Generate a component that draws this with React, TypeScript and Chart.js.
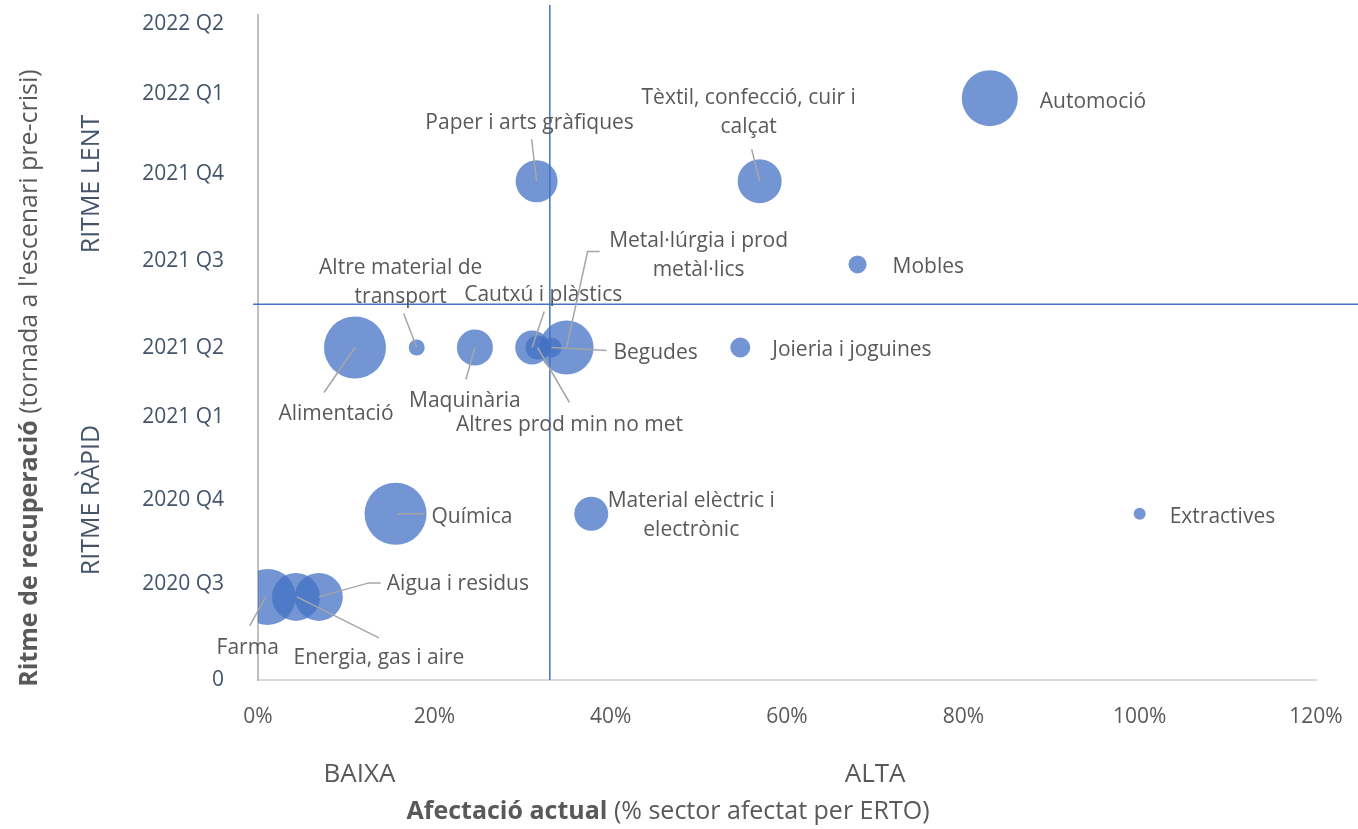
import React, { useEffect, useRef } from 'react';
import { Chart, registerables } from 'chart.js';

Chart.register(...registerables);

const FONT = '"Open Sans", sans-serif';

// ---- Data ----
const sectors = [
  'Automoció',
  'Tèxtil, confecció, cuir i\ncalçat',
  'Paper i arts gràfiques',
  'Mobles',
  'Alimentació',
  'Altre material de\ntransport',
  'Maquinària',
  'Cautxú i plàstics',
  'Altres prod min no met',
  'Begudes',
  'Metal·lúrgia i prod\nmetàl·lics',
  'Joieria i joguines',
  'Química',
  'Material elèctric i\nelectrònic',
  'Extractives',
  'Aigua i residus',
  'Farma',
  'Energia, gas i aire',
];
// % of sector affected by ERTO
const affectation = [0.83, 0.569, 0.316, 0.68, 0.11, 0.18, 0.246, 0.311, 0.317, 0.333, 0.35, 0.547, 0.156, 0.378, 1.0, 0.069, 0.011, 0.043];
// recovery quarter index (1 = 2020 Q3 ... 8 = 2022 Q2)
const recoveryQuarter = [7, 6, 6, 5, 4, 4, 4, 4, 4, 4, 4, 4, 2, 2, 2, 1, 1, 1];
// bubble size (radius)
const bubbleSizes = [28, 22, 21, 9, 31, 8, 18, 17, 12, 10, 27, 10, 31, 17, 6, 24, 28, 24];

const yTickValues = [0, 1.16, 2.16, 3.16, 3.99, 5.04, 6.09, 7.05, 7.89];
const yTickLabels = ['0', '2020 Q3', '2020 Q4', '2021 Q1', '2021 Q2', '2021 Q3', '2021 Q4', '2022 Q1', '2022 Q2'];
const xTickStep = 0.2;
const xMax = 1.2;
const yMax = 8;
const splitX = 0.331;
const splitY = 4.52;

// ---- Label placement (pixel offsets from bubble centre) ----
type LabelPos = { dx: number; dy: number; align: 'left' | 'center'; leader?: [number, number][] };
const labelPlacement: LabelPos[] = [
  { dx: 50, dy: 2, align: 'left' },
  { dx: -11, dy: -85, align: 'center', leader: [[-8, -32], [0, 0]] },
  { dx: -7, dy: -60, align: 'center', leader: [[-5, -42], [0, 0]] },
  { dx: 35, dy: 1, align: 'left' },
  { dx: -19, dy: 65, align: 'center', leader: [[-31, 45], [0, 0]] },
  { dx: -16, dy: -81, align: 'center', leader: [[-13, -34], [0, 0]] },
  { dx: -10, dy: 52, align: 'center', leader: [[-9, 32], [0, 0]] },
  { dx: 11, dy: -54, align: 'center', leader: [[12, -36], [0, 0]] },
  { dx: 32, dy: 76, align: 'center', leader: [[32, 55], [0, 0]] },
  { dx: 104, dy: 4, align: 'center', leader: [[55, 3], [0, 0]] },
  { dx: 132, dy: -108, align: 'center', leader: [[33, -96], [21, -96], [0, 0]] },
  { dx: 32, dy: 1, align: 'left' },
  { dx: 36, dy: 1, align: 'left', leader: [[29, 0], [2, 0]] },
  { dx: 100, dy: -15, align: 'center' },
  { dx: 30, dy: 1, align: 'left' },
  { dx: 68, dy: -15, align: 'left', leader: [[62, -14], [50, -14], [0, 0]] },
  { dx: -20, dy: 49, align: 'center', leader: [[-18, 29], [-2, 0]] },
  { dx: 83, dy: 59, align: 'center', leader: [[83, 41], [1, 0]] },
];

const annotationsPlugin = {
  id: 'quadrantAnnotations',
  afterDatasetsDraw(chart: any) {
    const { ctx, chartArea, scales } = chart;
    const xs = scales.x;
    const ys = scales.y;
    ctx.save();
    // quadrant lines
    ctx.strokeStyle = '#4472C4';
    ctx.lineWidth = 1.5;
    const vx = xs.getPixelForValue(splitX);
    ctx.beginPath();
    ctx.moveTo(vx, chartArea.top - 10);
    ctx.lineTo(vx, chartArea.bottom);
    ctx.stroke();
    const hy = ys.getPixelForValue(splitY);
    ctx.beginPath();
    ctx.moveTo(xs.getPixelForValue(0) - 5, hy);
    ctx.lineTo(chart.width, hy);
    ctx.stroke();

    // leader lines + labels
    const meta = chart.getDatasetMeta(0);
    ctx.font = `21px ${FONT}`;
    ctx.textBaseline = 'middle';
    meta.data.forEach((el: any, i: number) => {
      const p = labelPlacement[i];
      const cx = el.x;
      const cy = el.y;
      if (p.leader) {
        ctx.strokeStyle = '#A6A6A6';
        ctx.lineWidth = 1.5;
        ctx.beginPath();
        p.leader.forEach(([lx, ly], k) => {
          if (k === 0) ctx.moveTo(cx + lx, cy + ly);
          else ctx.lineTo(cx + lx, cy + ly);
        });
        ctx.stroke();
      }
      ctx.fillStyle = '#595959';
      ctx.textAlign = p.align;
      sectors[i].split('\n').forEach((line, k) => {
        ctx.fillText(line, cx + p.dx, cy + p.dy + 2 + k * 29);
      });
    });
    ctx.restore();
  },
  afterDraw(chart: any) {
    const { ctx, scales } = chart;
    const xs = scales.x;
    ctx.save();
    ctx.fillStyle = '#595959';
    ctx.textBaseline = 'middle';
    // x-axis region labels
    ctx.font = `26px ${FONT}`;
    ctx.textAlign = 'center';
    ctx.fillText('BAIXA', xs.getPixelForValue(0.115), 775);
    ctx.fillText('ALTA', xs.getPixelForValue(0.70), 775);

    // x title
    const bold = 'Afectació actual';
    const normal = ' (% sector afectat per ERTO)';
    ctx.font = `bold 25px ${FONT}`;
    const wb = ctx.measureText(bold).width;
    ctx.font = `25px ${FONT}`;
    const wn = ctx.measureText(normal).width;
    const sx = 668 - (wb + wn) / 2;
    ctx.textAlign = 'left';
    ctx.font = `bold 25px ${FONT}`;
    ctx.fillText(bold, sx, 812);
    ctx.font = `25px ${FONT}`;
    ctx.fillText(normal, sx + wb, 812);

    // y title (rotated)
    const yb = 'Ritme de recuperació';
    const yn = " (tornada a l'escenari pre-crisi)";
    ctx.save();
    ctx.translate(30, 378);
    ctx.rotate(-Math.PI / 2);
    ctx.font = `bold 25px ${FONT}`;
    const wyb = ctx.measureText(yb).width;
    ctx.font = `25px ${FONT}`;
    const wyn = ctx.measureText(yn).width;
    const s = -(wyb + wyn) / 2;
    ctx.font = `bold 25px ${FONT}`;
    ctx.fillText(yb, s, 0);
    ctx.font = `25px ${FONT}`;
    ctx.fillText(yn, s + wyb, 0);
    ctx.restore();

    // y region labels
    ctx.font = `25px ${FONT}`;
    ctx.fillStyle = '#44546A';
    ctx.textAlign = 'center';
    ctx.save();
    ctx.translate(92, 184);
    ctx.rotate(-Math.PI / 2);
    ctx.fillText('RITME LENT', 0, 0);
    ctx.restore();
    ctx.save();
    ctx.translate(92, 500);
    ctx.rotate(-Math.PI / 2);
    ctx.fillText('RITME RÀPID', 0, 0);
    ctx.restore();
    ctx.restore();
  },
};

export default function App() {
  const ref = useRef<HTMLCanvasElement>(null);
  useEffect(() => {
    const chart = new Chart(ref.current as HTMLCanvasElement, {
      type: 'bubble',
      data: {
        datasets: [
          {
            label: 'Sectors',
            data: sectors.map((_, i) => ({ x: affectation[i], y: recoveryQuarter[i], r: bubbleSizes[i] })),
            backgroundColor: 'rgba(68,114,196,0.75)',
            borderWidth: 0,
            hoverRadius: 0,
          },
        ],
      },
      options: {
        animation: false,
        responsive: true,
        maintainAspectRatio: false,
        events: [],
        layout: { autoPadding: false, padding: { top: 15, right: 42, left: 0, bottom: 0 } },
        plugins: { legend: { display: false }, tooltip: { enabled: false } },
        scales: {
          x: {
            type: 'linear',
            min: 0,
            max: xMax,
            grid: { display: false },
            border: { display: true, color: '#D9D9D9', width: 2 },
            ticks: {
              stepSize: xTickStep,
              color: '#595959',
              font: { family: FONT, size: 21 },
              padding: 16,
              callback: (v: any) => `${Math.round(Number(v) * 100)}%`,
            },
            afterFit: (scale: any) => {
              scale.height = 149;
              scale.paddingLeft = 0;
              scale.paddingRight = 0;
            },
          },
          y: {
            type: 'linear',
            min: 0,
            max: yMax,
            grid: { display: false },
            border: { display: true, color: '#BFBFBF', width: 2 },
            afterBuildTicks: (scale: any) => {
              scale.ticks = yTickValues.map((v) => ({ value: v }));
            },
            ticks: {
              autoSkip: false,
              color: '#44546A',
              font: { family: FONT, size: 21 },
              padding: 26,
              callback: (_v: any, idx: number) => yTickLabels[idx],
            },
            afterFit: (scale: any) => {
              scale.width = 258;
              scale.paddingTop = 0;
              scale.paddingBottom = 0;
            },
          },
        },
      },
      plugins: [annotationsPlugin],
    });
    return () => chart.destroy();
  }, []);
  return (
    <div style={{ position: 'absolute', left: 0, top: 0, width: 1358, height: 829 }}>
      <canvas ref={ref} />
    </div>
  );
}
